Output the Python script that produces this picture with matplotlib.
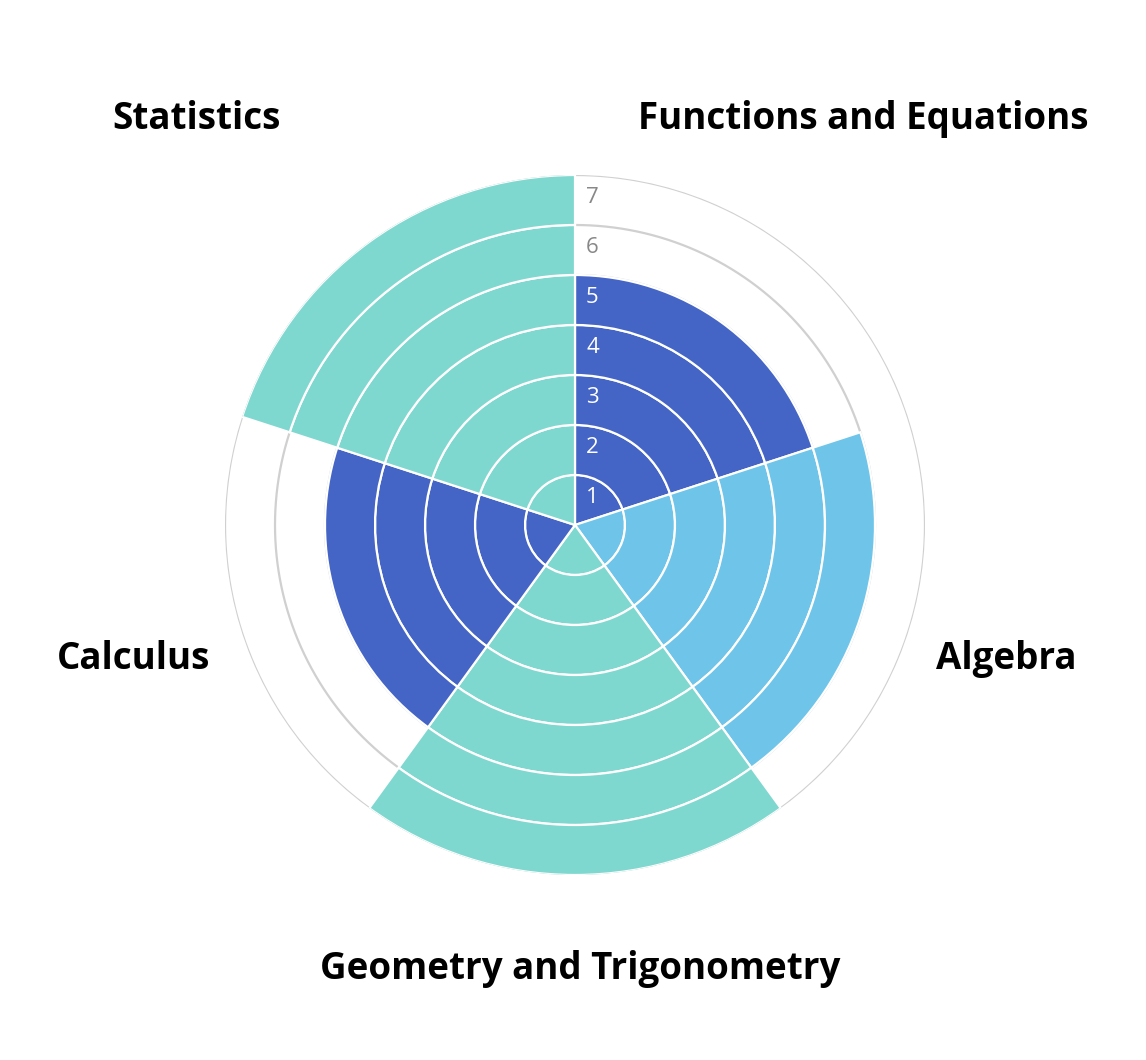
import numpy as np
import matplotlib
matplotlib.use("Agg")
import matplotlib.pyplot as plt

categories = ["Functions and Equations", "Algebra", "Geometry and Trigonometry", "Calculus", "Statistics"]
values = [5, 6, 7, 5, 7]
colors = ["#4464C6", "#6EC4E9", "#7FD8CF", "#4464C6", "#7FD8CF"]
rticks = [1, 2, 3, 4, 5, 6, 7]

W, H = 1146, 1060
fig = plt.figure(figsize=(W / 100, H / 100), dpi=100)
cx, cy, R = 575, 525, 350
ax = fig.add_axes([(cx - R) / W, (H - cy - R) / H, 2 * R / W, 2 * R / H], projection="polar")
ax.set_theta_zero_location("N")
ax.set_theta_direction(-1)
ax.set_ylim(0, 7)
ax.set_xticks([])
ax.set_yticks([])
ax.spines["polar"].set_visible(False)
ax.grid(False)

# gray grid circles
th = np.linspace(0, 2 * np.pi, 721)
for r in rticks:
    ax.plot(th, np.full_like(th, r), color="#d0d0d0", lw=1.6, zorder=1)

n = len(categories)
width = 2 * np.pi / n
for i, (v, c) in enumerate(zip(values, colors)):
    start = i * width
    for k in range(v):
        ax.bar(start, 1, width=width, bottom=k, align="edge", color=c,
               edgecolor="white", linewidth=1.6, zorder=2)

# radial tick labels
for r in rticks:
    col = "white" if r <= values[0] else "#888888"
    ax.annotate(str(r), xy=(0, r - 0.5), xytext=(8, 2), textcoords="offset points",
                ha="left", va="center", fontsize=16, color=col, family="Open Sans", zorder=5)

label_pos = {
    "Functions and Equations": (863, 119),
    "Algebra": (1006, 659),
    "Geometry and Trigonometry": (580, 969),
    "Calculus": (134, 659),
    "Statistics": (197, 119),
}
for cat in categories:
    x, y = label_pos[cat]
    fig.text(x / W, 1 - y / H, cat, ha="center", va="center", fontsize=26.5,
             fontweight="bold", family="Open Sans", color="black")

fig.savefig("out.png", dpi=100, facecolor="white")
